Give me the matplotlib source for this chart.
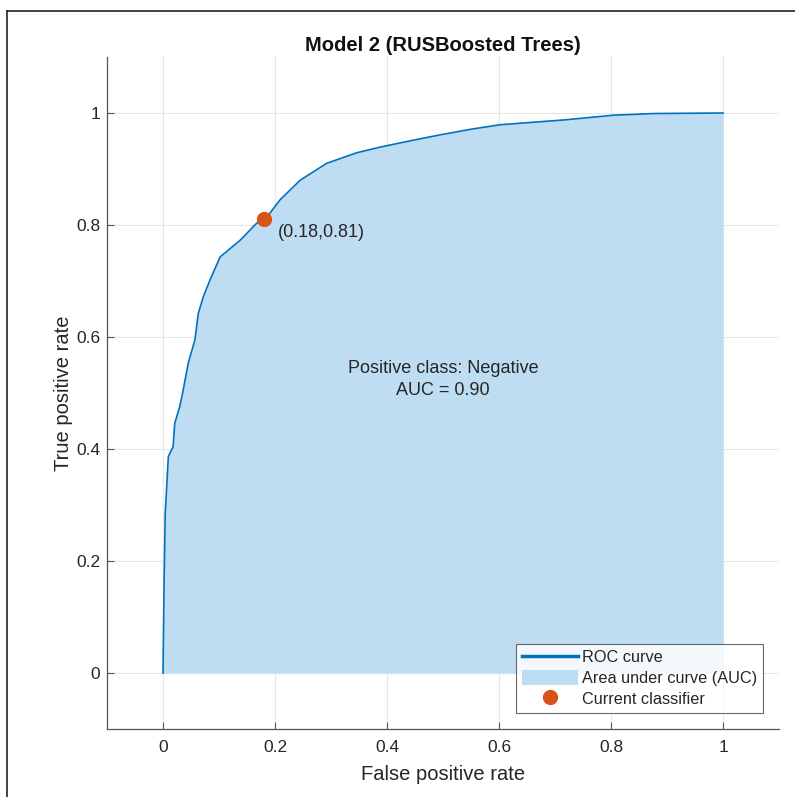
import matplotlib
matplotlib.use("Agg")
import matplotlib.pyplot as plt
from matplotlib.lines import Line2D
from matplotlib.patches import Patch

plt.rcParams['font.family'] = ['Liberation Sans', 'DejaVu Sans']

# ROC curve
fpr = [0.0, 0.002, 0.004, 0.0095, 0.012, 0.018, 0.021, 0.030, 0.036, 0.045,
       0.057, 0.063, 0.072, 0.084, 0.102, 0.138, 0.167, 0.184, 0.209, 0.245,
       0.292, 0.346, 0.3875, 0.44, 0.495, 0.55, 0.602, 0.715, 0.804, 0.876, 1.0]
tpr = [0.0, 0.166, 0.286, 0.386, 0.392, 0.404, 0.446, 0.476, 0.505, 0.553,
       0.595, 0.642, 0.672, 0.702, 0.743, 0.773, 0.803, 0.812, 0.845, 0.880,
       0.910, 0.929, 0.939, 0.950, 0.961, 0.971, 0.979, 0.9875, 0.996, 0.999, 1.0]

# current classifier operating point
op_fpr = 0.18
op_tpr = 0.81
auc = 0.90
positive_class = "Negative"
ticks = [0, 0.2, 0.4, 0.6, 0.8, 1]
tick_labels = ["0", "0.2", "0.4", "0.6", "0.8", "1"]

line_col = "#0072BD"
fill_col = "#BFDDF2"
dot_col = "#D95319"
text_col = "#262626"
axis_col = "#555555"

fig = plt.figure(figsize=(7.95, 7.97), dpi=100)
ax = fig.add_axes([0.1346, 0.0853, 0.8453, 0.8432])

ax.fill_between(fpr, tpr, 0, color=fill_col, linewidth=0, zorder=1)
ax.plot(fpr, tpr, color=line_col, linewidth=1.2, zorder=3)
ax.plot(op_fpr, op_tpr, "o", color=dot_col, markersize=10, zorder=4)

ax.text(op_fpr + 0.025, op_tpr - 0.024, f"({op_fpr:.2f},{op_tpr:.2f})",
        fontsize=13, color=text_col, va="center", ha="left")
ax.text(0.5, 0.524, f"Positive class: {positive_class}\nAUC = {auc:.2f}",
        fontsize=13, color=text_col, ha="center", va="center",
        linespacing=1.35)

ax.set_xlim(-0.1, 1.1)
ax.set_ylim(-0.1, 1.1)
ax.set_xticks(ticks)
ax.set_xticklabels(tick_labels)
ax.set_yticks(ticks)
ax.set_yticklabels(tick_labels)
ax.grid(True, color="#E6E6E6", linewidth=0.8, zorder=0)
ax.set_axisbelow(True)

for side in ["top", "right"]:
    ax.spines[side].set_visible(False)
for side in ["left", "bottom"]:
    ax.spines[side].set_color(axis_col)
    ax.spines[side].set_linewidth(0.9)
ax.tick_params(direction="in", length=5, color=axis_col, labelsize=12.5,
               labelcolor=text_col)
ax.tick_params(axis="x", pad=8)
ax.tick_params(axis="y", pad=5)

ax.set_xlabel("False positive rate", fontsize=14.5, color=text_col, labelpad=7)
ax.set_ylabel("True positive rate", fontsize=14.5, color=text_col, labelpad=2)
ax.set_title("Model 2 (RUSBoosted Trees)", fontsize=14.5, fontweight="bold",
             color="#111111", pad=4)

handles = [
    Line2D([0], [0], color=line_col, linewidth=2.5),
    Patch(facecolor=fill_col, edgecolor="none"),
    Line2D([0], [0], marker="o", color=dot_col, linestyle="none", markersize=10),
]
labels = ["ROC curve", "Area under curve (AUC)", "Current classifier"]
leg = ax.legend(handles, labels, loc="lower right", fontsize=11.7,
                bbox_to_anchor=(0.976, 0.024), borderaxespad=0,
                frameon=True, fancybox=False, edgecolor="#444444",
                handlelength=3.4, handleheight=1.0, handletextpad=0.25,
                labelspacing=0.3, borderpad=0.37)
leg.get_frame().set_linewidth(0.8)
for t in leg.get_texts():
    t.set_color(text_col)

# screenshot frame on the left and top
fig.add_artist(Line2D([0.009, 0.009], [0, 0.986], color="#222222", linewidth=1.2))
fig.add_artist(Line2D([0.009, 1.0], [0.986, 0.986], color="#222222", linewidth=1.2))

fig.savefig("out.png", dpi=100)
